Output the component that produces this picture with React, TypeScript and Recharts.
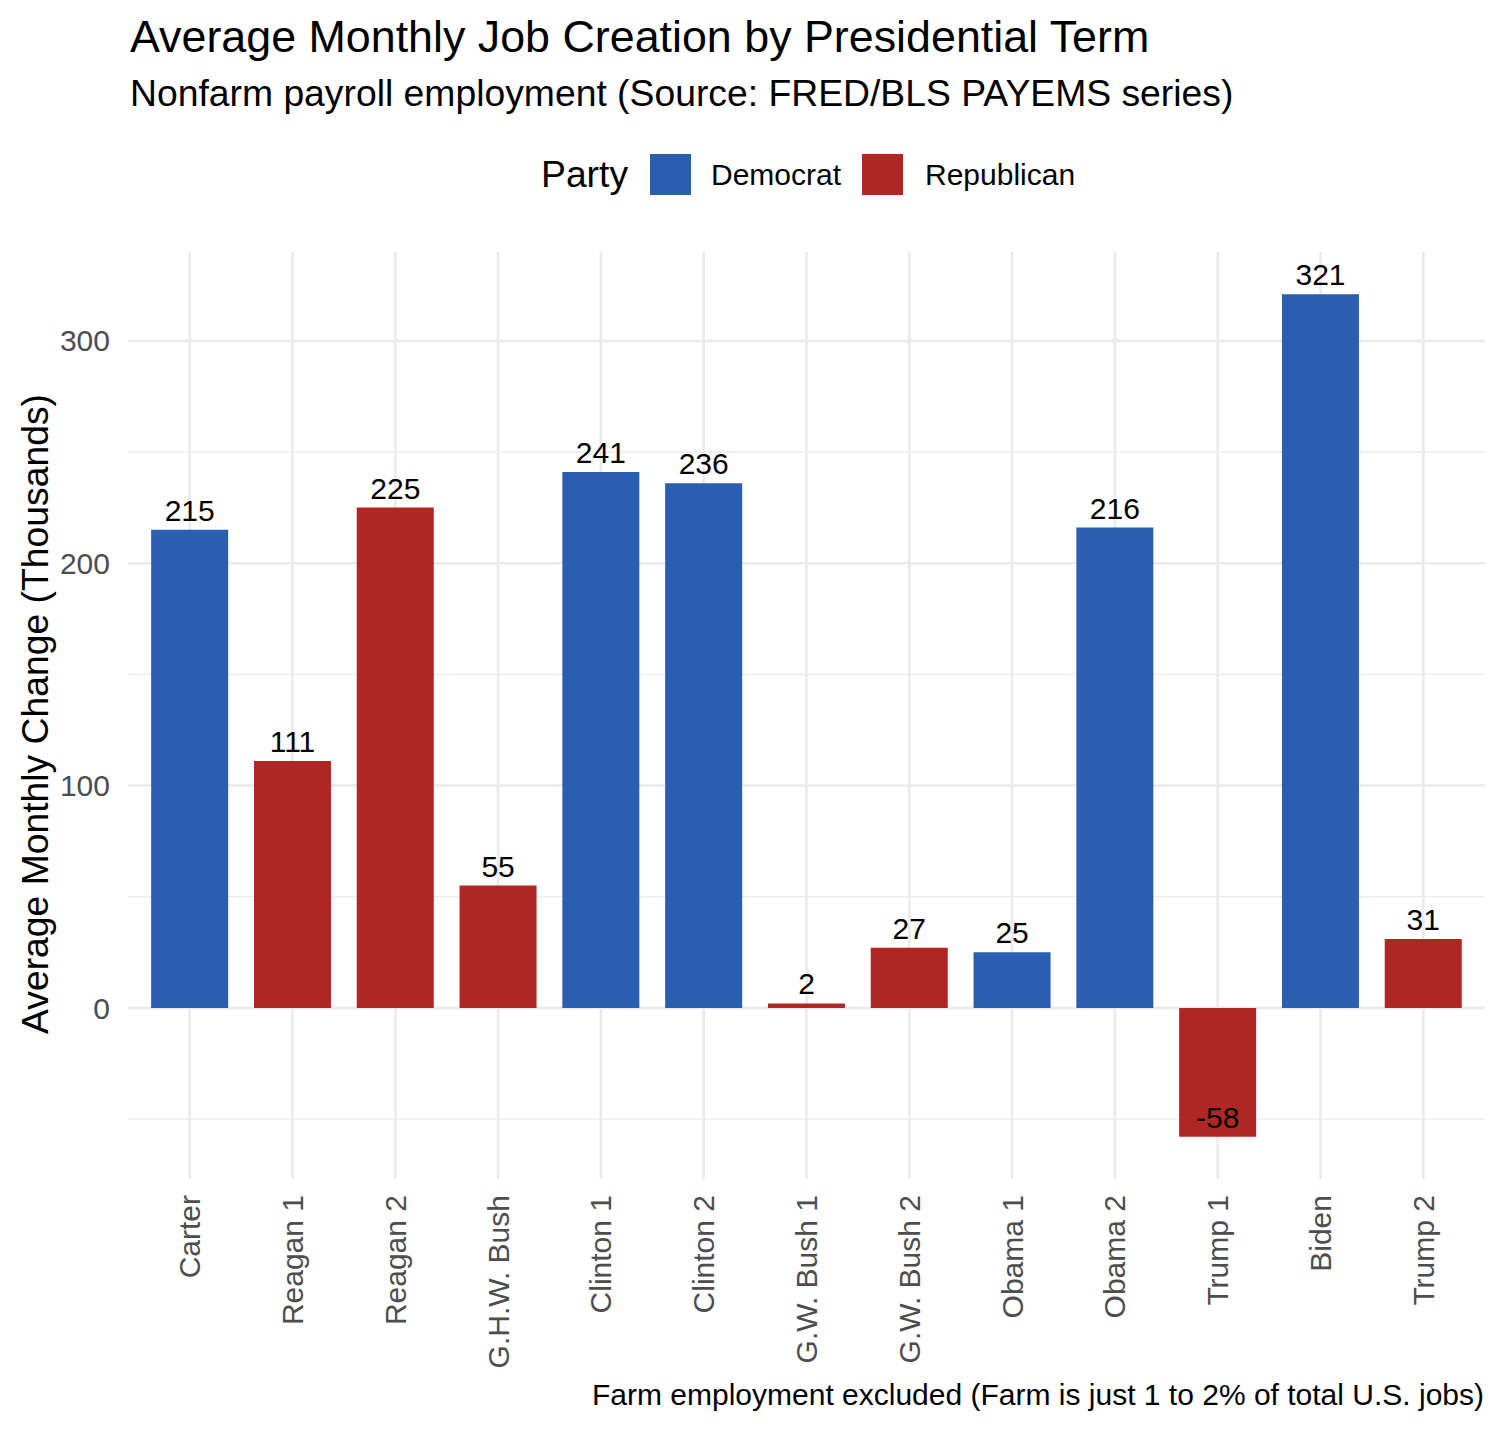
import React from 'react';
import {
  ComposedChart,
  Bar,
  Line,
  Cell,
  XAxis,
  YAxis,
  CartesianGrid,
  LabelList,
} from 'recharts';

// Presidential terms in chronological order
const terms = [
  'Carter',
  'Reagan 1',
  'Reagan 2',
  'G.H.W. Bush',
  'Clinton 1',
  'Clinton 2',
  'G.W. Bush 1',
  'G.W. Bush 2',
  'Obama 1',
  'Obama 2',
  'Trump 1',
  'Biden',
  'Trump 2',
];

// Average monthly change in nonfarm payrolls (thousands)
const avgMonthlyChange = [215, 111, 225, 55, 241, 236, 2, 27, 25, 216, -58, 321, 31];

const parties = [
  'Democrat',
  'Republican',
  'Republican',
  'Republican',
  'Democrat',
  'Democrat',
  'Republican',
  'Republican',
  'Democrat',
  'Democrat',
  'Republican',
  'Democrat',
  'Republican',
];

const yTicks = [0, 100, 200, 300];
const yMinorTicks = [-50, 50, 150, 250];

const partyColors: Record<string, string> = {
  Democrat: '#2A5EB0',
  Republican: '#B02623',
};

const chartData = terms.map((term, i) => ({
  term,
  value: avgMonthlyChange[i],
  party: parties[i],
}));

const FONT = '"Liberation Sans", Arial, Helvetica, sans-serif';
const W = 1488;
const H = 1418;

const XTick = (props: any) => {
  const { x, y, payload } = props;
  return (
    <text
      transform={`translate(${x + 10.5},${y + 16}) rotate(-90)`}
      textAnchor="end"
      fontSize={30}
      fontFamily={FONT}
      fill="#4D4D4D"
    >
      {payload.value}
    </text>
  );
};

const ValueLabel = (props: any) => {
  const { x, y, value } = props;
  return (
    <text x={x} y={y - 9} textAnchor="middle" fontSize={30} fontFamily={FONT} fill="#000">
      {value}
    </text>
  );
};

const App = () => {
  return (
    <div style={{ position: 'relative', width: W, height: H, background: '#fff', fontFamily: FONT }}>
      <ComposedChart
        width={W}
        height={H}
        data={chartData}
        margin={{ top: 244, right: 11, bottom: 47, left: 0 }}
        barCategoryGap="12.5%"
      >
        <CartesianGrid
          stroke="#EBEBEB"
          strokeWidth={1.3}
          vertical={false}
          horizontalValues={yMinorTicks}
          syncWithTicks
        />
        <CartesianGrid stroke="#EBEBEB" strokeWidth={2.6} syncWithTicks />
        <XAxis
          dataKey="term"
          interval={0}
          axisLine={false}
          tickLine={false}
          tickSize={0}
          tickMargin={0}
          height={200}
          padding={{ left: 10.3, right: 10.3 }}
          tick={<XTick />}
        />
        <YAxis
          domain={[-76.95, 339.95]}
          ticks={yTicks}
          allowDataOverflow
          axisLine={false}
          tickLine={false}
          tickSize={0}
          tickMargin={18}
          width={120}
          tick={{ fill: '#4D4D4D', fontSize: 30, fontFamily: FONT }}
        />
        <Bar dataKey="value" isAnimationActive={false}>
          {chartData.map((d) => (
            <Cell key={d.term} fill={partyColors[d.party]} />
          ))}
        </Bar>
        <Line
          dataKey="value"
          stroke="none"
          dot={false}
          activeDot={false}
          legendType="none"
          isAnimationActive={false}
        >
          <LabelList dataKey="value" content={<ValueLabel />} />
        </Line>
      </ComposedChart>

      <svg
        width={W}
        height={H}
        style={{ position: 'absolute', left: 0, top: 0, pointerEvents: 'none' }}
        fontFamily={FONT}
      >
        <text x={122} y={44} fontSize={44.8} fill="#000">
          Average Monthly Job Creation by Presidential Term
        </text>
        <text x={122} y={98} fontSize={37.3} fill="#000">
          Nonfarm payroll employment (Source: FRED/BLS PAYEMS series)
        </text>

        {/* legend */}
        <text x={533} y={179} fontSize={37.3} fill="#000">
          Party
        </text>
        <rect x={642} y={146} width={41} height={41} fill={partyColors.Democrat} />
        <text x={703} y={177} fontSize={30} fill="#000">
          Democrat
        </text>
        <rect x={854} y={146} width={41} height={41} fill={partyColors.Republican} />
        <text x={917} y={177} fontSize={30} fill="#000">
          Republican
        </text>

        <text
          transform="translate(40,706) rotate(-90)"
          textAnchor="middle"
          fontSize={37.3}
          fill="#000"
        >
          Average Monthly Change (Thousands)
        </text>

        <text x={1476} y={1397} textAnchor="end" fontSize={30} fill="#000">
          Farm employment excluded (Farm is just 1 to 2% of total U.S. jobs)
        </text>
      </svg>
    </div>
  );
};

export default App;
